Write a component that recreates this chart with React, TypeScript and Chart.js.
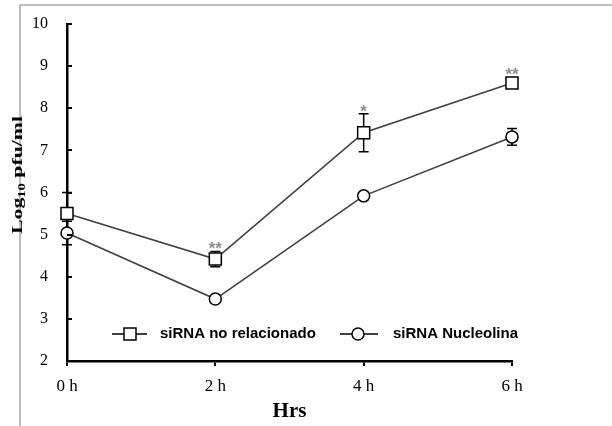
import React, { useEffect, useRef } from "react";
import { Chart, registerables } from "chart.js";

Chart.register(...registerables);

const categories = ["0 h", "2 h", "4 h", "6 h"];
const seriesNames = ["siRNA no relacionado", "siRNA Nucleolina"];
const controlValues = [5.5, 4.42, 7.42, 8.6];
const controlErrors = [0.5, 0.18, 0.45, 0.08];
const nucleolinValues = [5.04, 3.47, 5.92, 7.32];
const nucleolinErrors = [0.28, 0.05, 0.05, 0.2];
const significance = ["", "**", "*", "**"];
const yMin = 2;
const yMax = 10;
const yStep = 1;
const yTitleMain = "Log";
const yTitleSub = "10";
const yTitleRest = " pfu/ml";
const xTitle = "Hrs";

const SERIF = '"Liberation Serif", "Times New Roman", serif';
const SANS = '"Liberation Sans", Arial, sans-serif';

const errorSets = [controlErrors, nucleolinErrors];

const decorPlugin = {
  id: "decor",
  beforeDraw(chart: any) {
    const ctx = chart.ctx;
    ctx.save();
    ctx.fillStyle = "#ffffff";
    ctx.fillRect(0, 0, chart.width, chart.height);
    ctx.strokeStyle = "#a8a8a8";
    ctx.lineWidth = 1.5;
    ctx.strokeRect(20, 5, chart.width + 50, chart.height + 50);
    ctx.restore();
  },
  beforeDatasetsDraw(chart: any) {
    const ctx = chart.ctx;
    const xs = chart.scales.x;
    const ys = chart.scales.y;
    ctx.save();
    ctx.strokeStyle = "#000";
    ctx.lineWidth = 1.5;
    chart.data.datasets.forEach((ds: any, di: number) => {
      const errs = errorSets[di];
      ds.data.forEach((v: number, i: number) => {
        const e = errs[i];
        if (!e) return;
        const x = xs.getPixelForValue(i);
        const yt = ys.getPixelForValue(v + e);
        const yb = ys.getPixelForValue(v - e);
        ctx.beginPath();
        ctx.moveTo(x, yt);
        ctx.lineTo(x, yb);
        ctx.moveTo(x - 5, yt);
        ctx.lineTo(x + 5, yt);
        ctx.moveTo(x - 5, yb);
        ctx.lineTo(x + 5, yb);
        ctx.stroke();
      });
    });
    ctx.restore();
  },
  afterDraw(chart: any) {
    const ctx = chart.ctx;
    const xs = chart.scales.x;
    const ys = chart.scales.y;
    const area = chart.chartArea;
    ctx.save();
    // inward y ticks
    ctx.strokeStyle = "#000";
    ctx.lineWidth = 2;
    for (let v = yMin; v <= yMax; v += yStep) {
      const y = Math.round(ys.getPixelForValue(v));
      ctx.beginPath();
      ctx.moveTo(area.left, y);
      ctx.lineTo(area.left + 5, y);
      ctx.stroke();
    }
    // significance marks
    ctx.fillStyle = "#8c8c8c";
    ctx.font = `bold 17px ${SANS}`;
    ctx.textAlign = "center";
    ctx.textBaseline = "alphabetic";
    significance.forEach((s, i) => {
      if (!s) return;
      const x = xs.getPixelForValue(i);
      const top = Math.min(
        ys.getPixelForValue(controlValues[i] + controlErrors[i]),
        ys.getPixelForValue(controlValues[i]) - 6
      );
      ctx.fillText(s, x, top + 3);
    });
    // legend
    const legendY = area.bottom - 27;
    const items = [
      { lineFrom: 112, lineTo: 147, marker: 130, textX: 160, style: "rect" },
      { lineFrom: 340, lineTo: 378, marker: 358, textX: 393, style: "circle" },
    ];
    items.forEach((it, k) => {
      ctx.strokeStyle = "#000";
      ctx.lineWidth = 1.5;
      ctx.beginPath();
      ctx.moveTo(it.lineFrom, legendY);
      ctx.lineTo(it.lineTo, legendY);
      ctx.stroke();
      ctx.fillStyle = "#fff";
      ctx.beginPath();
      if (it.style === "rect") ctx.rect(it.marker - 6, legendY - 6, 12, 12);
      else ctx.arc(it.marker, legendY, 6, 0, Math.PI * 2);
      ctx.fill();
      ctx.stroke();
      ctx.fillStyle = "#000";
      ctx.font = `bold 15px ${SANS}`;
      ctx.textAlign = "left";
      ctx.textBaseline = "middle";
      ctx.fillText(seriesNames[k], it.textX, legendY);
    });
    // y title with subscript
    ctx.translate(22, 175);
    ctx.rotate(-Math.PI / 2);
    const fMain = `bold 15px ${SERIF}`;
    const fSub = `bold 10px ${SERIF}`;
    ctx.font = fMain;
    const w1 = ctx.measureText(yTitleMain).width;
    const w3 = ctx.measureText(yTitleRest).width;
    ctx.font = fSub;
    const w2 = ctx.measureText(yTitleSub).width;
    const W = w1 + w2 + w3;
    ctx.scale(118 / W, 1);
    let x = -W / 2;
    ctx.fillStyle = "#000";
    ctx.textAlign = "left";
    ctx.textBaseline = "alphabetic";
    ctx.font = fMain;
    ctx.fillText(yTitleMain, x, 0);
    x += w1;
    ctx.font = fSub;
    ctx.fillText(yTitleSub, x, 3);
    x += w2;
    ctx.font = fMain;
    ctx.fillText(yTitleRest, x, 0);
    ctx.restore();
  },
};

export default function App() {
  const ref = useRef<HTMLCanvasElement>(null);
  useEffect(() => {
    if (!ref.current) return;
    const chart = new Chart(ref.current, {
      type: "line",
      data: {
        labels: categories,
        datasets: [
          {
            label: seriesNames[0],
            data: controlValues,
            borderColor: "#404040",
            borderWidth: 1.6,
            pointStyle: "rect",
            pointRadius: 8.5,
            pointBackgroundColor: "#fff",
            pointBorderColor: "#000",
            pointBorderWidth: 1.5,
            tension: 0,
            clip: false,
          },
          {
            label: seriesNames[1],
            data: nucleolinValues,
            borderColor: "#404040",
            borderWidth: 1.6,
            pointStyle: "circle",
            pointRadius: 6,
            pointBackgroundColor: "#fff",
            pointBorderColor: "#000",
            pointBorderWidth: 1.5,
            tension: 0,
            clip: false,
          },
        ],
      },
      options: {
        responsive: false,
        animation: false,
        events: [],
        layout: { padding: { top: 24, right: 100, bottom: 0, left: 0 } },
        plugins: { legend: { display: false }, tooltip: { enabled: false } },
        scales: {
          x: {
            type: "category",
            offset: false,
            grid: {
              drawOnChartArea: false,
              drawTicks: true,
              tickLength: 5,
              color: "#000",
              lineWidth: 2,
            },
            border: { color: "#000", width: 2.5 },
            ticks: {
              color: "#000",
              font: { family: SERIF, size: 17 },
              padding: 10,
              maxRotation: 0,
            },
            title: {
              display: true,
              text: xTitle,
              color: "#000",
              font: { family: SERIF, size: 21, weight: "bold" },
              padding: { top: 0, bottom: 2 },
            },
            afterFit: (s: any) => {
              s.height = 65;
              s.paddingLeft = 0;
              s.paddingRight = 0;
            },
          },
          y: {
            min: yMin,
            max: yMax,
            grid: { drawOnChartArea: false, drawTicks: false },
            border: { color: "#000", width: 2.5 },
            ticks: {
              stepSize: yStep,
              color: "#000",
              font: { family: SERIF, size: 16 },
              padding: 19,
            },
            afterFit: (s: any) => {
              s.width = 67;
              s.paddingTop = 0;
              s.paddingBottom = 0;
            },
          },
        },
      },
      plugins: [decorPlugin],
    } as any);
    return () => chart.destroy();
  }, []);
  return (
    <div style={{ position: "absolute", left: 0, top: 0, width: 612, height: 426 }}>
      <canvas ref={ref} width={612} height={426} />
    </div>
  );
}
